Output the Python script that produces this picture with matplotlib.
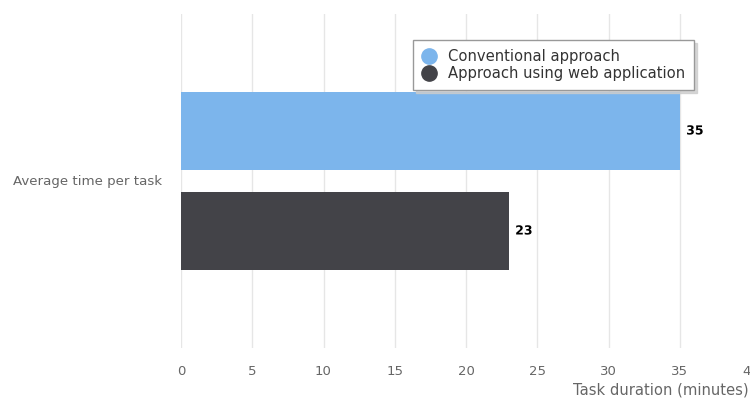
import matplotlib
matplotlib.use("Agg")
import matplotlib.pyplot as plt
from matplotlib.lines import Line2D
import matplotlib.patheffects as pe

categories = ["Average time per task"]
series_names = ["Conventional approach", "Approach using web application"]
series_values = [[35], [23]]
colors = ["#7cb5ec", "#434348"]
xticks = [0, 5, 10, 15, 20, 25, 30, 35, 40]

W, H = 750, 398
fig = plt.figure(figsize=(W / 100, H / 100), dpi=100)
ax = fig.add_axes([181 / W, 1 - 348 / H, 570 / W, 334 / H])

bar_h = 78 / 334
offsets = [-50 / 334, 50 / 334]
for i, (name, vals) in enumerate(zip(series_names, series_values)):
    ys = [c + offsets[i] for c in range(len(categories))]
    ax.barh(ys, vals, height=bar_h, color=colors[i], zorder=3, label=name)
    for y, v in zip(ys, vals):
        ax.text(v + 0.45, y, str(v), va="center", ha="left", fontsize=9,
                fontweight="bold", color="#000000", zorder=4,
                path_effects=[pe.withStroke(linewidth=2, foreground="white")])

ax.set_xlim(0, 40)
ax.set_ylim(0.5, -0.5)
ax.set_xticks(xticks)
ax.set_xticklabels([str(t) for t in xticks], color="#666666", fontsize=9.5)
ax.tick_params(axis="x", length=0, pad=12)
ax.set_yticks([])
ax.grid(axis="x", color="#e6e6e6", linewidth=1, zorder=0)
for s in ax.spines.values():
    s.set_visible(False)

fig.text(13 / W, 1 - 182 / H, categories[0], ha="left", va="center",
         fontsize=9.6, color="#666666")
fig.text(749 / W, 1 - 390 / H, "Task duration (minutes)", ha="right",
         va="center", fontsize=10.6, color="#666666")

handles = [Line2D([], [], marker="o", linestyle="none", markersize=11,
                  markerfacecolor=c, markeredgecolor=c) for c in colors]
leg = ax.legend(handles, series_names, loc="upper left",
                bbox_to_anchor=((413 - 181) / 570, (348 - 40) / 334),
                frameon=True, fancybox=False, shadow={"color": "#cccccc", "alpha": 0.8},
                fontsize=10.6,
                handletextpad=0.8, borderpad=0.6, labelspacing=0.18,
                handlelength=1.0, borderaxespad=0)
leg.get_frame().set_edgecolor("#999999")
leg.get_frame().set_linewidth(1)
for t in leg.get_texts():
    t.set_color("#333333")

fig.savefig("out.png", dpi=100)
